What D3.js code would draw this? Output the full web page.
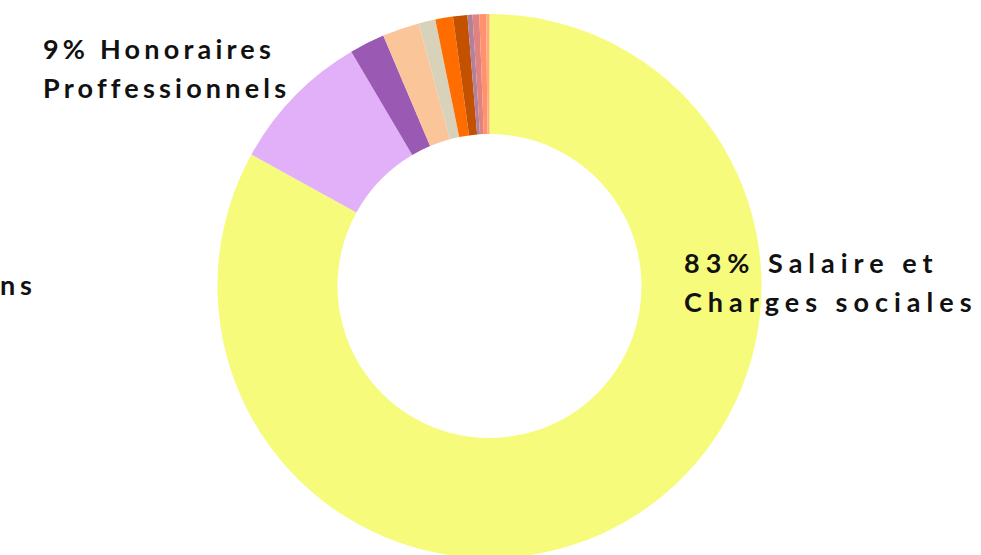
<!DOCTYPE html>
<html lang="fr">
<head>
    <meta charset="UTF-8">
    <title>Répartition des dépenses</title>
    <script src="https://d3js.org/d3.v7.min.js"></script>
    <style>
        body { margin: 0; background: #fff; }
        .label {
            font-family: Lato, "Noto Sans", sans-serif;
            font-weight: 700;
            font-size: 27px;
            fill: #111;
        }
    </style>
</head>
<body>

<svg width="981" height="555"></svg>

<script>
    const categories = [
        "Salaire et Charges sociales",
        "Honoraires Proffessionnels",
        "Poste 3", "Poste 4", "Poste 5", "Poste 6",
        "Poste 7", "Poste 8", "Poste 9", "Poste 10", "Poste 11"
    ];
    const values = [83.2, 8.5, 2.1, 2.2, 1.0, 1.05, 0.85, 0.3, 0.4, 0.4, 0.2];
    const colors = [
        "#f6fb7b", "#e2b0f8", "#9a5ab4", "#fbc59a", "#d8d2bb",
        "#ff6d00", "#c45100", "#b0809e", "#e0837f", "#ff9070", "#ffb070"
    ];

    // text labels, the third one runs off the left edge like in the original
    const labels = [
        {lines: ["83% Salaire et", "Charges sociales"], x: 684, y: 273, anchor: "start", spacing: 6},
        {lines: ["9% Honoraires", "Proffessionnels"], x: 43, y: 59, anchor: "start", spacing: 4.2},
        {lines: ["2% Cotisations"], x: 37, y: 295, anchor: "end", spacing: 5}
    ];

    const svg = d3.select("svg");
    const cx = 489.5, cy = 286;
    const outerR = 272, innerR = 152;

    const pie = d3.pie().sort(null).value(d => d);
    const arc = d3.arc().innerRadius(innerR).outerRadius(outerR);

    const g = svg.append("g").attr("transform", `translate(${cx},${cy})`);

    g.selectAll("path")
        .data(pie(values))
        .enter().append("path")
        .attr("d", arc)
        .attr("fill", (d, i) => colors[i]);

    const text = svg.append("g")
        .selectAll("text")
        .data(labels)
        .enter().append("text")
        .attr("class", "label")
        .attr("text-anchor", d => d.anchor)
        .attr("letter-spacing", d => d.spacing)
        .attr("x", d => d.x)
        .attr("y", d => d.y);

    text.selectAll("tspan")
        .data(d => d.lines.map(l => ({l, x: d.x})))
        .enter().append("tspan")
        .attr("x", d => d.x)
        .attr("dy", (d, i) => i === 0 ? 0 : 39)
        .text(d => d.l);
</script>

</body>
</html>
